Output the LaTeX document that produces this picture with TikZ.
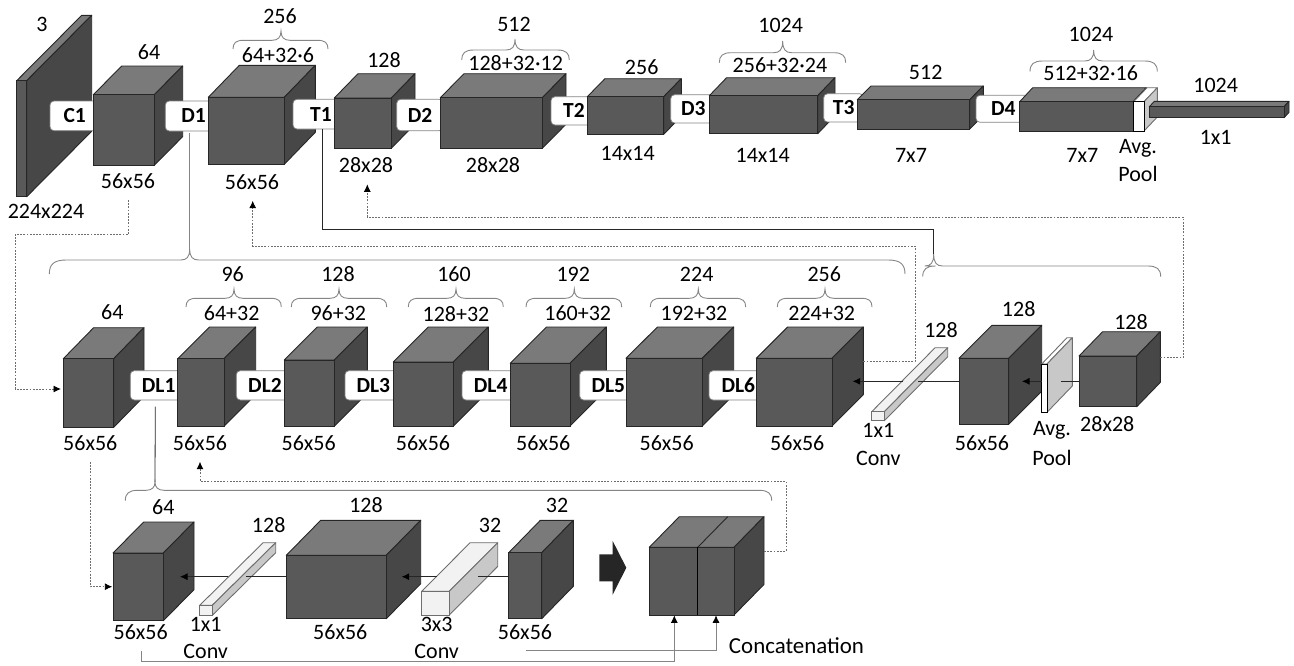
\documentclass[tikz,border=0pt]{standalone}
\usepackage{fontspec}
\setmainfont{Carlito}
\usetikzlibrary{arrows.meta}
\definecolor{fd}{HTML}{595959}
\definecolor{td}{HTML}{7A7A7A}
\definecolor{sd}{HTML}{474747}
\definecolor{ed}{HTML}{262626}
\definecolor{fl}{HTML}{F2F2F2}
\definecolor{sl}{HTML}{C8C8C8}
\definecolor{gl}{HTML}{6E6E6E}
\definecolor{br}{HTML}{858585}
\newcounter{lb}
\tikzset{
  d-front/.style={draw=ed,fill=fd,line width=.9pt},
  d-top/.style={draw=ed,fill=td,line width=.9pt,line join=round},
  d-side/.style={draw=ed,fill=sd,line width=.9pt,line join=round},
  l-front/.style={draw=gl,fill=fl,line width=.9pt},
  l-top/.style={draw=gl,fill=fl,line width=.9pt,line join=round},
  l-side/.style={draw=gl,fill=sl,line width=.9pt,line join=round},
  p-front/.style={draw=black,fill=white,line width=.9pt},
  p-top/.style={draw=gl,fill=white,line width=.9pt,line join=round},
  p-side/.style={draw=gl,fill=sl,line width=.9pt,line join=round},
  tag/.style={draw=br,fill=white,line width=.7pt,rounded corners=4pt,inner sep=0pt,outer sep=0pt,font=\fontsize{21.5}{24}\selectfont\bfseries,text=black},
  txt/.style={inner sep=0pt,outer sep=0pt,text=black},
  bracel/.style={draw=br,line width=.9pt},
  dots/.style={draw=gl,line width=.9pt,dash pattern=on 1.8pt off 1.4pt},
  dotarrow/.style={dots,-{Latex[length=7.5pt,width=7pt,black]}},
  solidline/.style={draw=black!85,line width=.8pt},
  greyline/.style={draw=br,line width=.9pt},
  arr/.style={solidline,-{Latex[length=7.5pt,width=7pt,black]}},
  greyarr/.style={greyline,-{Latex[length=7.5pt,width=7pt,black]}},
}
% prefix, name, x, y, w, h, dx, dy
\newcommand\solid[8]{%
  \draw[#1-top] (#3,#4) -- ++(#7,-#8) -- ++(#5,0) -- ++(-#7,#8) -- cycle;
  \draw[#1-side] ({#3+#5},#4) -- ++(#7,-#8) -- ++(0,#6) -- ++(-#7,#8) -- cycle;
  \node[#1-front,anchor=north west,outer sep=0pt,inner sep=0pt,minimum width=#5pt,minimum height=#6pt] (#2) at (#3,#4) {};
}
% name, left, right, top, bottom, text
\newcommand\tagbox[6]{%
  \node[tag,minimum width={(#3-#2)*1pt},minimum height={(#5-#4)*1pt}] (#1) at ({(#2+#3)/2},{(#4+#5)/2}) {#6};
}
\newcommand\lab[3]{%
  \stepcounter{lb}\node[txt,align=center] (t\thelb) at (#1,#2) {#3};
}
% name, x1, x2, y, apex x, apex y, end y
\newcommand\brk[7]{%
  \coordinate (#1) at (#5,#6);
  \draw[bracel] (#2,#7) .. controls (#2,{#4+(#7-#4)*.3}) and ({#2+(#7-#4)*.35},#4) .. ({#2+(#7-#4)*1.2},#4)
    -- ({#5-9},#4) .. controls ({#5-3},#4) and (#5,{#4-3}) .. (#5,#6)
    .. controls (#5,{#4-3}) and ({#5+3},#4) .. ({#5+9},#4)
    -- ({#3-(#7-#4)*1.2},#4) .. controls ({#3-(#7-#4)*.35},#4) and (#3,{#4+(#7-#4)*.3}) .. (#3,#7);
}
\begin{document}
\begin{tikzpicture}[x=1pt,y=-1pt,font=\fontsize{22}{24}\selectfont]
\useasboundingbox (0,0) rectangle (1294,665);

% ---------- row 1 ----------
\solid{d}{slab}{16.7}{80.7}{10}{116}{65}{65.4}
\tagbox{C1}{50}{99.4}{101}{130.7}{C1}
\solid{d}{r1a}{93.3}{94.7}{61}{70.6}{28.4}{28.7}
\tagbox{D1}{165.3}{222}{101}{131}{D1}
\solid{d}{r1b}{208.3}{97.3}{76}{67}{31}{32}
\tagbox{T1}{293}{349}{99.3}{129}{T1}
\solid{d}{r1c}{334.3}{98}{57}{50.3}{23.7}{24.3}
\tagbox{D2}{396.7}{443.3}{99.3}{130.7}{D2}
\solid{d}{r1d}{440.3}{97.7}{102}{50.6}{23.7}{24}
\tagbox{T2}{551}{597}{96.7}{125}{T2}
\solid{d}{r1e}{587.3}{96.7}{76.4}{37.6}{17.6}{18}
\tagbox{D3}{670.7}{716}{94.7}{123}{D3}
\solid{d}{r1f}{709.3}{95.7}{108.4}{38}{17.3}{18}
\tagbox{T3}{823.7}{863.7}{93.7}{122}{T3}
\solid{d}{r1g}{857.3}{99.7}{112.4}{29.3}{13.6}{13.7}
\tagbox{D4}{976}{1030.6}{95.3}{122.3}{D4}
\solid{d}{r1h}{1019.7}{101.7}{113.6}{29.3}{13}{14}
\solid{p}{r1pool}{1133.7}{101.7}{10.3}{29.3}{13.3}{14}
\solid{d}{r1i}{1149.3}{106.7}{134.7}{11}{5}{5.3}

% row 1 labels
\lab{42}{24}{3}
\lab{149}{52}{64}
\lab{128}{181}{56x56}
\lab{46}{211}{224x224}
\lab{280}{16}{256}
\lab{278}{55}{64+32·6}
\lab{252}{182}{56x56}
\lab{384}{60}{128}
\lab{366}{165}{28x28}
\lab{514}{24}{512}
\lab{515.7}{63}{128+32·12}
\lab{493}{165}{28x28}
\lab{641.7}{67}{256}
\lab{627.7}{153}{14x14}
\lab{780.7}{25}{1024}
\lab{780}{65}{256+32·24}
\lab{762.7}{155}{14x14}
\lab{925.7}{72}{512}
\lab{911}{155}{7x7}
\lab{1091}{34}{1024}
\lab{1090.7}{73}{512+32·16}
\lab{1082.3}{155}{7x7}
\lab{1138}{148}{Avg.}
\lab{1138}{174}{Pool}
\lab{1215.7}{85}{1024}
\lab{1215.7}{137}{1x1}

\brk{b1}{233}{328}{40.3}{281}{31}{49}
\brk{b2}{461.7}{569.3}{50}{515}{39}{60}
\brk{b3}{719.3}{845.7}{52.7}{782.7}{41}{62.7}
\brk{b4}{1030}{1157.3}{61}{1093.7}{50}{71.5}

% ---------- row 2 ----------
\solid{d}{r2a}{63.3}{358.7}{50.4}{68.6}{30.3}{31}
\tagbox{DL1}{130.3}{187}{370.7}{400}{DL1}
\solid{d}{r2b}{177.7}{358.7}{46.3}{67.6}{31.7}{31.7}
\tagbox{DL2}{236.3}{293.7}{370.7}{400}{DL2}
\solid{d}{r2c}{284.3}{360}{50}{66.3}{33}{33}
\tagbox{DL3}{345}{401.7}{370.7}{400}{DL3}
\solid{d}{r2d}{393.3}{362}{60}{64.3}{35}{35}
\tagbox{DL4}{462}{519.4}{370.7}{400}{DL4}
\solid{d}{r2e}{510.3}{363.3}{59.7}{62.7}{36.3}{36.3}
\tagbox{DL5}{579.7}{637}{370.7}{400}{DL5}
\solid{d}{r2f}{626}{358.3}{76.3}{67.7}{31.4}{31.3}
\tagbox{DL6}{709}{767.6}{370.7}{400}{DL6}
\solid{d}{r2g}{756.3}{358.3}{75.7}{67.7}{31.3}{31.3}
\solid{l}{r2bar}{871.7}{411.7}{12.6}{9}{63.4}{64}
\solid{d}{r2h}{959}{358.3}{49.7}{66}{33}{33}
\solid{p}{r2pool}{1041.7}{364}{5.3}{48.3}{25.3}{26.3}
\solid{d}{r2i}{1079}{356}{57.7}{50.7}{23.6}{24.3}

\lab{112.3}{312}{64}
\lab{232.7}{274}{96}
\lab{231.7}{313}{64+32}
\lab{338}{274}{128}
\lab{338.3}{313}{96+32}
\lab{454}{274}{160}
\lab{456}{314}{128+32}
\lab{573.3}{274}{192}
\lab{577.7}{313}{160+32}
\lab{696.7}{274}{224}
\lab{694}{313}{192+32}
\lab{824.3}{274}{256}
\lab{821.7}{313}{224+32}
\lab{90.3}{443}{56x56}
\lab{200}{443}{56x56}
\lab{308.7}{443}{56x56}
\lab{423}{443}{56x56}
\lab{543.3}{443}{56x56}
\lab{666.7}{443}{56x56}
\lab{797.3}{443}{56x56}
\lab{878.3}{430.7}{1x1}
\lab{878.3}{458}{Conv}
\lab{941}{330.3}{128}
\lab{1018.7}{308.7}{128}
\lab{1131}{322}{128}
\lab{982}{443}{56x56}
\lab{1052}{430.7}{Avg.}
\lab{1052}{457.7}{Pool}
\lab{1107.3}{424}{28x28}

\brk{bs1}{186}{281.3}{298.3}{234}{289}{307}
\brk{bs2}{291.3}{386.7}{298.3}{339}{289}{307}
\brk{bs3}{408.3}{503.3}{298.3}{456}{289}{307}
\brk{bs4}{526}{621.7}{298.3}{574.3}{289}{307}
\brk{bs5}{650.3}{745.7}{298.3}{698.3}{289}{307}
\brk{bs6}{777.3}{872}{298.3}{825}{289}{307}
\brk{bD}{49.3}{905}{260}{189.7}{249}{274}
\brk{bT}{922.7}{1160.7}{266}{933.7}{254}{276.7}

% ---------- row 3 ----------
\solid{d}{r3a}{113}{553}{50.3}{67.7}{30.7}{31}
\solid{l}{r3bar}{199.7}{605.3}{12.6}{10}{63.4}{62.6}
\solid{d}{r3b}{286.3}{555.3}{100}{63.4}{34.4}{35}
\solid{l}{r3conv}{421.7}{591.3}{27.6}{23.7}{48.4}{48.6}
\solid{d}{r3c}{508.7}{552.7}{33}{66}{31.6}{32.4}
\solid{d}{concat}{649.3}{547.3}{84.7}{67.7}{30}{30.6}
\coordinate (divA) at (697.7,547.3);
\coordinate (divB) at (697.7,615);
\coordinate (divC) at (727.7,516.7);
\draw[draw=ed,line width=.9pt] (divA) -- (divC);
\draw[draw=black,line width=1.4pt] (divA) -- (divB);
\fill[fill=ed] (599.3,554.3) -- (612.7,554.3) -- (612.7,541) -- (626.3,567.7) -- (612.7,594.7) -- (612.7,581.3) -- (599.3,581.3) -- cycle;

\lab{163.3}{506.7}{64}
\lab{268.7}{525.3}{128}
\lab{366}{505.3}{128}
\lab{490}{525.3}{32}
\lab{557}{505.3}{32}
\lab{140.7}{632.3}{56x56}
\lab{205.7}{624}{1x1}
\lab{205.7}{651.7}{Conv}
\lab{340.3}{632.3}{56x56}
\lab{436.7}{624}{3x3}
\lab{436.7}{651.7}{Conv}
\lab{525}{632.3}{56x56}
\lab{796.5}{646}{\fontsize{22.9}{24}\selectfont Concatenation}

\brk{bL}{125.3}{771.7}{490.3}{155}{482}{500.7}

% ---------- connectors ----------
\coordinate (d1s) at (189.7,133.3);
\coordinate (t1s) at (322.7,129);
\coordinate (t1c) at (322.7,229.3);
\coordinate (t1d) at (933.7,229.3);
\coordinate (dl1s) at (155.3,406.7);
\draw[greyline] (d1s) -- (bD);
\draw[solidline] (t1s) -- (t1c) -- (t1d) -- (bT);
\draw[solidline] (dl1s) -- (bL);

\coordinate (s1a) at (128.7,200);
\coordinate (s1b) at (128.7,234);
\coordinate (s1c) at (15.3,234);
\coordinate (s1d) at (15.3,389);
\coordinate (s1e) at (61,389);
\draw[dotarrow] (s1a) -- (s1b) -- (s1c) -- (s1d) -- (s1e);

\coordinate (s2a) at (863.3,361.7);
\coordinate (s2b) at (915,361.7);
\coordinate (s2c) at (915,246.3);
\coordinate (s2d) at (252.7,246.3);
\coordinate (s2e) at (252.7,200.7);
\draw[dotarrow] (s2a) -- (s2b) -- (s2c) -- (s2d) -- (s2e);

\coordinate (s3a) at (1160.3,357.3);
\coordinate (s3b) at (1183.3,357.3);
\coordinate (s3c) at (1183.3,217);
\coordinate (s3d) at (367.3,217);
\coordinate (s3e) at (367.3,184.3);
\draw[dotarrow] (s3a) -- (s3b) -- (s3c) -- (s3d) -- (s3e);

\coordinate (s4a) at (90,461.7);
\coordinate (s4b) at (90,586.7);
\coordinate (s4c) at (112.3,586.7);
\draw[dotarrow] (s4a) -- (s4b) -- (s4c);

\coordinate (s5a) at (764,551);
\coordinate (s5b) at (786,551);
\coordinate (s5c) at (786,481);
\coordinate (s5d) at (200,481);
\coordinate (s5e) at (200,461.7);
\draw[dotarrow] (s5a) -- (s5b) -- (s5c) -- (s5d) -- (s5e);

% row 2 arrows
\coordinate (a1) at (1061,381.3);
\coordinate (a2) at (1041.7,381.3);
\coordinate (a3) at (1022,381.3);
\coordinate (a4) at (918,381.3);
\coordinate (a5) at (903,381.3);
\coordinate (a6) at (852.7,381.3);
\draw[solidline] (r2i.west |- a1) -- (a1);
\draw[arr] (a2) -- (a3);
\draw[solidline] (r2h.west |- a4) -- (a4);
\draw[arr] (a5) -- (a6);

% row 3 arrows
\coordinate (c1) at (477.7,576.7);
\coordinate (c2) at (436.7,576.7);
\coordinate (c3) at (401.7,576.7);
\coordinate (c4) at (246,576.7);
\coordinate (c5) at (228,576.7);
\coordinate (c6) at (180,576.7);
\draw[solidline] (r3c.west |- c1) -- (c1);
\draw[arr] (c2) -- (c3);
\draw[solidline] (r3b.west |- c4) -- (c4);
\draw[arr] (c5) -- (c6);

\coordinate (f1a) at (141.7,650.7);
\coordinate (f1b) at (141.7,661.7);
\coordinate (f1c) at (674.3,661.7);
\coordinate (f1d) at (674.3,615.3);
\coordinate (f2a) at (525.7,650.7);
\coordinate (f2b) at (716,650.7);
\coordinate (f2c) at (716,615.3);
\draw[greyarr] (f1a) -- (f1b) -- (f1c) -- (f1d);
\draw[greyarr] (f2a) -- (f2b) -- (f2c);
\end{tikzpicture}
\end{document}
